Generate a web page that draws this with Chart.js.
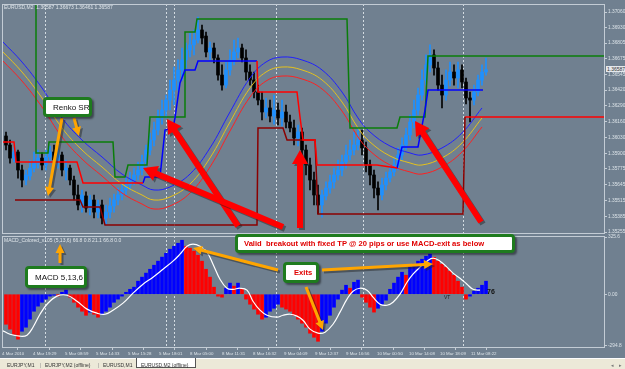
<!DOCTYPE html>
<html>
<head>
<meta charset="utf-8">
<script src="https://cdn.jsdelivr.net/npm/chart.js@4.4.1/dist/chart.umd.min.js"></script>
<style>
html,body{margin:0;padding:0;background:#708090;width:625px;height:369px;overflow:hidden;font-family:"Liberation Sans",Arial,sans-serif;}
#wrap{position:relative;width:625px;height:369px;}
canvas{position:absolute;left:0;}
#main{top:0;}
#macd{top:233px;}
.t{position:absolute;white-space:nowrap;line-height:1;}
.small{font-size:5px;color:#dfe5ea;}
.box{position:absolute;box-sizing:border-box;background:#fff;border:3px solid #1e7b1e;border-radius:4px;box-shadow:2px 2px 2px rgba(0,0,0,0.45);display:flex;align-items:center;white-space:nowrap;font-size:8px;}
#tabs{position:absolute;left:0;top:358px;width:625px;height:11px;background:#ece9d8;border-top:1px solid #fdfdfd;box-sizing:border-box;font-size:5px;color:#333;}
#tabs span{position:absolute;top:2.5px;}
#svg{position:absolute;left:0;top:0;}
</style>
</head>
<body>
<div id="wrap">
<canvas id="main" width="625" height="236"></canvas>
<canvas id="macd" width="625" height="125"></canvas>
<div class="t small" style="left:4px;top:4.5px;">EURUSD,M2&nbsp; 1.36587 1.36673 1.36461 1.36587</div>
<div class="t small" style="left:4px;top:238px;">MACD_Colored_v105 (5,13,6) 66.8 0.8 21.1 66.8 0.0</div>
<div class="t" style="left:606px;top:66px;background:#e4e8ec;color:#333;font-size:5px;padding:0.5px 1px;">1.36587</div>
<div class="t" style="left:444px;top:295px;font-size:5px;color:#222;">VT</div>
<div class="t" style="left:487px;top:288px;font-size:7px;color:#111;font-weight:bold;">76</div>
<svg id="svg" width="625" height="369"></svg>
<div class="box" style="left:43px;top:97px;width:49px;height:20px;padding-left:7px;color:#111;">Renko SR</div>
<div class="box" style="left:25px;top:266px;width:62px;height:22px;padding-left:7px;color:#111;">MACD 5,13,6</div>
<div class="box" style="left:235px;top:234px;width:280px;height:19px;padding-left:6px;color:#e00000;font-weight:bold;font-size:7.6px;">Valid&nbsp; breakout with fixed TP @ 20 pips or use MACD-exit as below</div>
<div class="box" style="left:283px;top:262px;width:36px;height:21px;padding-left:8px;color:#e00000;font-weight:bold;font-size:7.6px;">Exits</div>
<div id="tabs">
<span style="left:7px;">EURJPY,M1</span><span style="left:40px;color:#888;">|</span>
<span style="left:45px;">EURJPY,M2 (offline)</span><span style="left:98px;color:#888;">|</span>
<span style="left:103px;">EURUSD,M1</span>
<div style="position:absolute;left:136px;top:-1px;width:60px;height:10px;background:#fff;border:1px solid #555;border-top:none;box-sizing:border-box;"></div>
<span style="left:141px;">EURUSD,M2 (offline)</span>
<span style="left:611px;color:#777;">&#9666;</span><span style="left:619px;color:#777;">&#9656;</span>
</div>
</div>
<script>
// ---------------- DATA ----------------
const candleOpen = [1.36043,1.35969,1.35862,1.35912,1.35764,1.35682,1.35715,1.35780,1.35821,1.35862,1.35805,1.35871,1.35912,1.35846,1.35887,1.35764,1.35780,1.35682,1.35559,1.35477,1.35551,1.35452,1.35518,1.35419,1.35477,1.35370,1.35419,1.35469,1.35518,1.35559,1.35600,1.35641,1.35682,1.35723,1.35764,1.35830,1.35928,1.36010,1.36092,1.36191,1.36256,1.36338,1.36420,1.36502,1.36585,1.36667,1.36749,1.36790,1.36831,1.36913,1.36863,1.36732,1.36765,1.36683,1.36543,1.36461,1.36585,1.36667,1.36732,1.36765,1.36683,1.36568,1.36502,1.36404,1.36338,1.36240,1.36273,1.36207,1.36256,1.36191,1.36240,1.36158,1.36109,1.36027,1.36076,1.35928,1.35805,1.35682,1.35559,1.35477,1.35551,1.35616,1.35666,1.35723,1.35764,1.35830,1.35887,1.35928,1.35969,1.36010,1.35945,1.35805,1.35723,1.35616,1.35559,1.35641,1.35698,1.35748,1.35805,1.35887,1.35969,1.36051,1.36158,1.36256,1.36379,1.36502,1.36626,1.36708,1.36601,1.36461,1.36379,1.36502,1.36568,1.36519,1.36585,1.36486,1.36355,1.36338,1.36404,1.36502,1.36568];
const candleHigh = [1.36076,1.36010,1.35945,1.35928,1.35805,1.35764,1.35846,1.35912,1.35928,1.35904,1.35928,1.35961,1.35969,1.35928,1.35912,1.35846,1.35805,1.35715,1.35641,1.35600,1.35584,1.35559,1.35559,1.35518,1.35518,1.35477,1.35534,1.35567,1.35616,1.35657,1.35698,1.35748,1.35780,1.35830,1.35887,1.35969,1.36068,1.36158,1.36256,1.36338,1.36379,1.36502,1.36609,1.36667,1.36765,1.36806,1.36888,1.36913,1.37019,1.36954,1.36896,1.36814,1.36806,1.36708,1.36626,1.36650,1.36749,1.36831,1.36847,1.36798,1.36749,1.36626,1.36568,1.36461,1.36404,1.36355,1.36338,1.36379,1.36314,1.36338,1.36297,1.36215,1.36174,1.36133,1.36109,1.35969,1.35862,1.35748,1.35641,1.35600,1.35666,1.35723,1.35780,1.35846,1.35887,1.35969,1.36010,1.36076,1.36109,1.36092,1.35994,1.35846,1.35764,1.35666,1.35698,1.35748,1.35805,1.35862,1.35945,1.36027,1.36109,1.36215,1.36338,1.36437,1.36585,1.36708,1.36790,1.36749,1.36650,1.36543,1.36585,1.36650,1.36626,1.36650,1.36626,1.36519,1.36404,1.36461,1.36543,1.36626,1.36683];
const candleLow = [1.35928,1.35821,1.35830,1.35698,1.35625,1.35641,1.35682,1.35748,1.35780,1.35764,1.35764,1.35830,1.35805,1.35780,1.35715,1.35682,1.35641,1.35518,1.35436,1.35419,1.35419,1.35395,1.35370,1.35370,1.35321,1.35313,1.35370,1.35419,1.35477,1.35518,1.35559,1.35600,1.35641,1.35682,1.35723,1.35780,1.35887,1.35961,1.36051,1.36141,1.36191,1.36256,1.36297,1.36420,1.36502,1.36601,1.36691,1.36708,1.36806,1.36798,1.36691,1.36667,1.36642,1.36502,1.36420,1.36437,1.36543,1.36626,1.36683,1.36650,1.36502,1.36461,1.36355,1.36297,1.36174,1.36191,1.36158,1.36141,1.36133,1.36125,1.36109,1.36076,1.35969,1.35961,1.35846,1.35723,1.35600,1.35477,1.35403,1.35378,1.35518,1.35575,1.35616,1.35682,1.35715,1.35780,1.35846,1.35887,1.35928,1.35887,1.35748,1.35641,1.35534,1.35436,1.35518,1.35600,1.35666,1.35715,1.35764,1.35846,1.35928,1.36010,1.36109,1.36215,1.36338,1.36461,1.36568,1.36543,1.36420,1.36273,1.36338,1.36453,1.36461,1.36437,1.36437,1.36306,1.36158,1.36297,1.36371,1.36461,1.36543];
const candleClose = [1.35969,1.35862,1.35912,1.35764,1.35682,1.35723,1.35780,1.35830,1.35862,1.35805,1.35871,1.35912,1.35846,1.35887,1.35764,1.35780,1.35682,1.35559,1.35477,1.35559,1.35452,1.35518,1.35419,1.35477,1.35370,1.35419,1.35469,1.35518,1.35559,1.35600,1.35641,1.35682,1.35723,1.35764,1.35830,1.35928,1.36010,1.36092,1.36191,1.36256,1.36338,1.36420,1.36502,1.36585,1.36667,1.36749,1.36790,1.36831,1.36913,1.36847,1.36732,1.36765,1.36683,1.36543,1.36461,1.36585,1.36667,1.36732,1.36765,1.36683,1.36568,1.36502,1.36404,1.36338,1.36240,1.36273,1.36207,1.36256,1.36191,1.36240,1.36158,1.36109,1.36027,1.36076,1.35928,1.35805,1.35682,1.35559,1.35477,1.35559,1.35616,1.35666,1.35723,1.35764,1.35830,1.35887,1.35928,1.35969,1.36010,1.35945,1.35805,1.35723,1.35616,1.35559,1.35641,1.35698,1.35748,1.35805,1.35887,1.35969,1.36051,1.36158,1.36256,1.36379,1.36502,1.36626,1.36708,1.36601,1.36461,1.36379,1.36502,1.36568,1.36519,1.36585,1.36486,1.36355,1.36338,1.36404,1.36502,1.36568,1.36587];

// envelope curves (bar index, price)
const maIdx   = [-1,4,9,14,19,24,29,34,37,41,46,51,56,61,65,69,74,79,84,88,91,96,101,104,109,114,119];
const maUpper = [1.36822,1.36650,1.36437,1.36191,1.36010,1.35871,1.35731,1.35641,1.35600,1.35625,1.35731,1.35945,1.36240,1.36519,1.36650,1.36691,1.36667,1.36585,1.36404,1.36191,1.36076,1.35961,1.35904,1.35887,1.35945,1.36068,1.36273];
const maMid   = [1.36740,1.36568,1.36355,1.36109,1.35928,1.35789,1.35649,1.35559,1.35518,1.35543,1.35649,1.35863,1.36158,1.36437,1.36568,1.36609,1.36585,1.36503,1.36322,1.36109,1.35994,1.35879,1.35822,1.35805,1.35863,1.35986,1.36191];
const maLower = [1.36666,1.36494,1.36281,1.36035,1.35854,1.35715,1.35575,1.35485,1.35444,1.35469,1.35575,1.35789,1.36084,1.36363,1.36494,1.36535,1.36511,1.36429,1.36248,1.36035,1.35920,1.35805,1.35748,1.35731,1.35789,1.35912,1.36117];

// Renko SR levels: [bar index, price]
const srUpper = [[7.5,1.37150],[7.5,1.35904],[10.5,1.35904],[10.75,1.35994],[26.75,1.35994],[27.25,1.35706],[29.75,1.35706],[30.5,1.35805],[35.25,1.35805],[36,1.36199],[44.75,1.36199],[44.75,1.36896],[47.25,1.36896],[47.75,1.37003],[85.25,1.37003],[86,1.36109],[97.75,1.36109],[98.5,1.36199],[104.75,1.36199],[105.5,1.36699],[149.75,1.36699]];
const srTrendDown1 = [[-1,1.35994],[2,1.35994],[2.5,1.35830],[17.75,1.35830],[19.25,1.35657],[34.25,1.35657]];
const srTrendUp1 = [[34.25,1.35657],[34.75,1.35706],[38.5,1.35706],[39.75,1.36092],[41.75,1.36109],[42.25,1.36191],[43.5,1.36478],[44.75,1.36585],[47.25,1.36585],[48,1.36658],[62.75,1.36658]];
const srTrendDown2 = [[62.75,1.36658],[63,1.36404],[72.75,1.36404],[73.5,1.36199],[74.25,1.36010],[77.25,1.36010],[77.75,1.35805],[92.75,1.35805],[97.75,1.35780]];
const srTrendUp2 = [[97.75,1.35780],[99,1.35953],[103,1.35953],[104.75,1.36256],[105.5,1.36420],[119.25,1.36420]];
const srLower = [[2.25,1.35518],[18.5,1.35518],[19.25,1.35460],[23.5,1.35460],[24.75,1.35313],[62.75,1.35313],[63,1.36109],[69.25,1.36109],[70.25,1.36010],[77.25,1.36010],[78,1.35403],[114.25,1.35403],[114.75,1.36199]];
const srLowerNew = [[114.75,1.36199],[149.75,1.36199]];

// MACD histogram and signal
const macdHist = [-171,-199,-228,-256,-211,-188,-142,-97,-68,-46,-28,-11,-6,-11,11,23,-17,-46,-74,-97,-120,-102,-114,-131,-114,-97,-74,-46,-28,-11,11,28,40,74,97,120,142,165,188,211,233,256,273,290,307,273,262,245,222,188,142,97,40,-11,-17,34,63,46,63,28,-28,-57,-85,-114,-142,-131,-97,-80,-57,-74,-85,-97,-120,-142,-165,-188,-222,-245,-268,-211,-165,-120,-74,-28,23,51,34,68,80,-17,-46,-74,-102,-80,-57,-34,28,63,97,125,108,154,171,188,199,216,228,210,188,171,154,131,108,74,40,-28,-11,17,34,51,74];
const signalIdx = [-1,1,3.5,5.25,6.75,8.5,10.25,12.75,15.25,17.75,20.25,22.75,24.75,26.75,29.25,31.75,34.25,36.75,39.25,41.75,43.5,45.25,46.75,48.5,50.25,51.75,53.5,55.25,56.75,58.5,60.25,61.75,63.5,65.25,67.75,69.25,71,72.75,74.25,76,78,79.75,81.75,83.5,85.25,86.75,88.5,90.25,91.75,93.5,95.25,96.75,98.5,100.25,101.75,103.5,105.25,106.75,108.5,110.25,111.75,113.5,115.25,116.75,118.5];
const signalVal = [-205,-228,-239,-233,-188,-114,-57,-11,-6,-40,-85,-108,-114,-91,-51,6,57,97,142,188,228,273,285,273,239,171,85,34,28,34,23,-40,-91,-120,-131,-120,-114,-125,-148,-199,-222,-216,-171,-102,-28,17,34,23,-17,-57,-63,-46,0,68,114,154,188,205,188,154,120,91,57,28,23];

// axes
const priceTicks = [1.37060,1.36930,1.36805,1.36675,1.36545,1.36420,1.36290,1.36160,1.36030,1.35900,1.35775,1.35645,1.35515,1.35385,1.35255];
const macdTicks = [325.6,0,-294.8];
const timeTickIdx = [-1,6.75,14.75,22.5,30.5,38.25,46,54,61.75,69.5,77.25,85,92.75,100.75,108.5,116.25];
const timeTickLabels = ['4 Mar 2010','4 Mar 19:29','5 Mar 08:59','5 Mar 14:33','5 Mar 15:28','5 Mar 18:01','8 Mar 05:00','8 Mar 11:31','8 Mar 16:32','9 Mar 04:09','9 Mar 12:37','9 Mar 16:56','10 Mar 00:50','10 Mar 14:08','10 Mar 18:09','11 Mar 08:22'];
const separatorIdx = [9.75,40,42,67.5,89.25,114.25];

// ---------------- RENDER ----------------
Chart.defaults.font.family = '"Liberation Sans", Arial, sans-serif';
Chart.defaults.animation = false;
const X_MIN = -1, X_MAX = 149.75;
const LABEL = '#dbe2e8', FRAME = '#c3ccd5';

const framePlugin = {
  id: 'frame',
  beforeDatasetsDraw(chart) {
    const {ctx, chartArea: a, scales: {x}} = chart;
    ctx.save();
    ctx.strokeStyle = 'rgba(222,228,234,0.9)';
    ctx.lineWidth = 1;
    ctx.setLineDash([2, 2]);
    separatorIdx.forEach(v => {
      const px = Math.round(x.getPixelForValue(v)) + 0.5;
      ctx.beginPath(); ctx.moveTo(px, a.top); ctx.lineTo(px, a.bottom); ctx.stroke();
    });
    ctx.restore();
  },
  afterDraw(chart) {
    const {ctx, chartArea: a} = chart;
    ctx.save();
    ctx.strokeStyle = FRAME; ctx.lineWidth = 1;
    ctx.strokeRect(a.left + 0.5, a.top + 0.5, a.right - a.left - 1, a.bottom - a.top - 1);
    ctx.restore();
  }
};

const pts = arr => arr.map(p => ({x: p[0], y: p[1]}));
const candleColor = candleClose.map((c, i) => c >= candleOpen[i] ? '#1e90ff' : '#000000');
const stepLine = (data, color, order) => ({type: 'line', data: pts(data), borderColor: color, borderWidth: 1.5, pointRadius: 0, tension: 0, order});
const curve = (vals, color) => ({type: 'line', data: maIdx.map((x, k) => ({x, y: vals[k]})), borderColor: color, borderWidth: 1, pointRadius: 0, tension: 0.4, order: 3});

new Chart(document.getElementById('main'), {
  type: 'bar',
  data: {
    datasets: [
      {data: candleClose.map((c, i) => ({x: i, y: [candleLow[i], candleHigh[i]]})), backgroundColor: candleColor, barThickness: 1, grouped: false, order: 10},
      {data: candleClose.map((c, i) => ({x: i, y: [candleOpen[i], c]})), backgroundColor: candleColor, barThickness: 3, grouped: false, order: 9},
      curve(maUpper, '#1f1fff'),
      curve(maMid, '#e6c21a'),
      curve(maLower, '#ff2020'),
      stepLine(srLower, '#8b0000', 2),
      stepLine(srLowerNew, '#ff0000', 2),
      stepLine(srTrendDown1, '#ff0000', 1),
      stepLine(srTrendDown2, '#ff0000', 1),
      stepLine(srTrendUp1, '#0000ff', 1),
      stepLine(srTrendUp2, '#0000ff', 1),
      stepLine(srUpper, '#0a7d0a', 1)
    ]
  },
  options: {
    responsive: false, devicePixelRatio: 1, events: [],
    layout: {padding: {left: 2, top: 4, right: 0, bottom: 2}},
    plugins: {legend: {display: false}, tooltip: {enabled: false}},
    scales: {
      x: {type: 'linear', min: X_MIN, max: X_MAX, offset: false, display: false},
      y: {
        position: 'right', min: 1.35239, max: 1.37126,
        afterBuildTicks: s => { s.ticks = priceTicks.map(v => ({value: v})); },
        afterFit: s => { s.width = 20; s.paddingTop = 0; s.paddingBottom = 0; },
        ticks: {autoSkip: false, padding: 1, color: LABEL, font: {size: 4.8}, callback: v => Number(v).toFixed(5)},
        grid: {drawOnChartArea: false, drawTicks: true, tickLength: 2, color: FRAME},
        border: {display: false}
      }
    }
  },
  plugins: [framePlugin]
});

const histColor = macdHist.map((v, i) => (i > 0 && v >= macdHist[i - 1]) ? '#0000ff' : '#ff0000');
new Chart(document.getElementById('macd'), {
  type: 'bar',
  data: {
    datasets: [
      {type: 'line', data: signalIdx.map((x, k) => ({x, y: signalVal[k]})), borderColor: '#ffffff', borderWidth: 1.2, pointRadius: 0, tension: 0.4, order: 1},
      {data: macdHist.map((v, i) => ({x: i, y: v})), backgroundColor: histColor, barThickness: 3, grouped: false, order: 5}
    ]
  },
  options: {
    responsive: false, devicePixelRatio: 1, events: [],
    layout: {padding: {left: 2, top: 3, right: 0, bottom: 0}},
    plugins: {legend: {display: false}, tooltip: {enabled: false}},
    scales: {
      x: {
        type: 'linear', min: X_MIN, max: X_MAX, offset: false,
        afterBuildTicks: s => { s.ticks = timeTickIdx.map(v => ({value: v})); },
        afterFit: s => { s.height = 10; s.paddingLeft = 0; s.paddingRight = 0; },
        ticks: {autoSkip: false, maxRotation: 0, align: 'start', padding: 1, color: LABEL, font: {size: 4.4},
                callback: (v, i) => timeTickLabels[i]},
        grid: {drawOnChartArea: false, drawTicks: true, tickLength: 2, color: FRAME},
        border: {display: false}
      },
      y: {
        position: 'right', min: -306.2, max: 331.3,
        afterBuildTicks: s => { s.ticks = macdTicks.map(v => ({value: v})); },
        afterFit: s => { s.width = 20; s.paddingTop = 0; s.paddingBottom = 0; },
        ticks: {autoSkip: false, padding: 1, color: LABEL, font: {size: 4.8}, callback: v => v === 0 ? '0.00' : Number(v).toFixed(1)},
        grid: {drawOnChartArea: false, drawTicks: true, tickLength: 2, color: FRAME},
        border: {display: false}
      }
    }
  },
  plugins: [framePlugin]
});

// ---------------- ANNOTATION ARROWS ----------------
function arrowPoly(x1, y1, x2, y2, w, hl, hw) {
  const dx = x2 - x1, dy = y2 - y1, L = Math.hypot(dx, dy), ux = dx / L, uy = dy / L, px = -uy, py = ux;
  const bx = x2 - ux * hl, by = y2 - uy * hl;
  return [[x1 + px * w / 2, y1 + py * w / 2], [bx + px * w / 2, by + py * w / 2], [bx + px * hw / 2, by + py * hw / 2], [x2, y2],
          [bx - px * hw / 2, by - py * hw / 2], [bx - px * w / 2, by - py * w / 2], [x1 - px * w / 2, y1 - py * w / 2]]
    .map(p => p[0].toFixed(1) + ',' + p[1].toFixed(1)).join(' ');
}
const svg = document.getElementById('svg');
function addArrow(a, color, w, hl, hw, shadow) {
  if (shadow) {
    const s = document.createElementNS('http://www.w3.org/2000/svg', 'polygon');
    s.setAttribute('points', arrowPoly(a[0] + 2, a[1] + 2, a[2] + 2, a[3] + 2, w, hl, hw));
    s.setAttribute('fill', 'rgba(30,30,30,0.45)');
    svg.appendChild(s);
  }
  const p = document.createElementNS('http://www.w3.org/2000/svg', 'polygon');
  p.setAttribute('points', arrowPoly(a[0], a[1], a[2], a[3], w, hl, hw));
  p.setAttribute('fill', color);
  svg.appendChild(p);
}
const redArrows = [[238, 226, 167, 119], [283, 227, 143, 168], [300, 228, 300, 150], [481, 222, 415, 121]];
const orangeArrows = [[62, 118, 48, 196], [74, 118, 79, 136], [60, 263, 60, 244], [278, 270, 193, 248], [322, 270, 433, 264], [306, 287, 323, 330]];
redArrows.forEach(a => addArrow(a, '#ff0000', 6, 14, 16, true));
orangeArrows.forEach(a => addArrow(a, '#ffa500', 3, 9, 9, true));
</script>
</body>
</html>
